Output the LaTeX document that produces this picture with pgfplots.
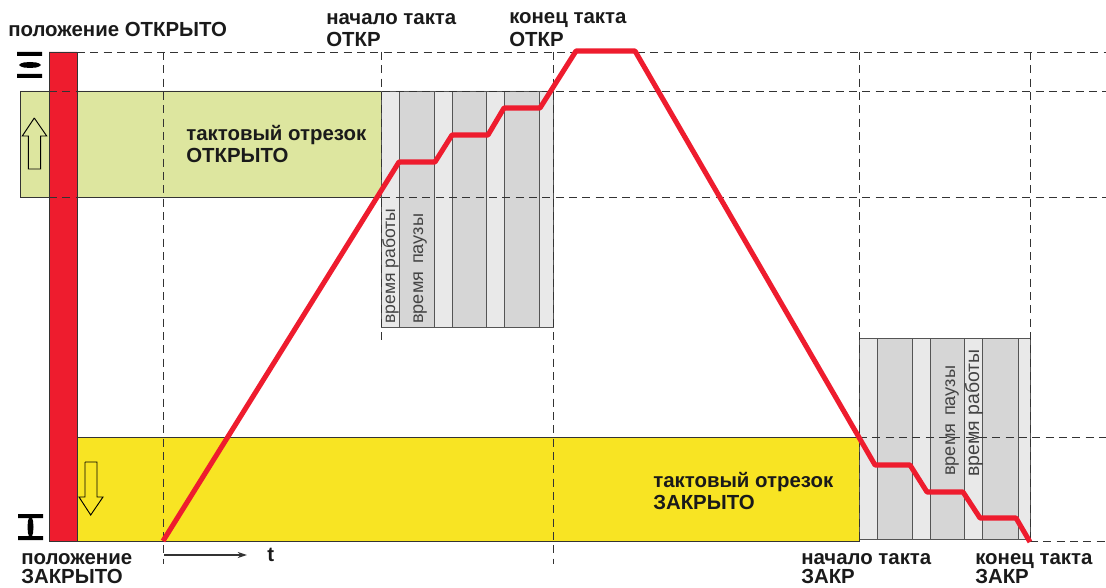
\documentclass[border=0pt]{standalone}
\usepackage{fontspec}
\setmainfont{Liberation Sans}
\usepackage{pgfplots}
\pgfplotsset{compat=1.18}
\usetikzlibrary{arrows.meta}
\definecolor{cred}{HTML}{EE1C2E}
\definecolor{cgreen}{HTML}{DDE69F}
\definecolor{cyellow}{HTML}{F8E423}
\definecolor{cdark}{HTML}{D6D6D6}
\definecolor{clight}{HTML}{E9E9E9}
\definecolor{cline}{HTML}{333333}
\definecolor{cdiv}{HTML}{555555}
\definecolor{ctext}{HTML}{1A1A1A}
\definecolor{cgrey}{HTML}{444444}
\newcommand\lab[3]{\node[anchor=base west, inner sep=0pt, font=\fontsize{15.3}{18}\selectfont\bfseries, text=ctext] at (axis cs:#1,#2) {#3};}
\newcommand\vlab[4]{\node[anchor=base west, rotate=90, inner sep=0pt, font=\fontsize{#3}{16}\selectfont, text=cgrey] at (axis cs:#1,#2) {#4};}
\begin{document}
\begin{tikzpicture}
\path[use as bounding box] (0,0) rectangle (829.5pt,441pt);
\begin{axis}[at={(0,0)}, anchor=south west, scale only axis, width=829.5pt, height=441pt,
    xmin=0, xmax=1106, ymin=0, ymax=588, y dir=reverse, hide axis, clip=true,
    band/.style={fill=#1, draw=cdiv, line width=0.7pt},
    grid line/.style={draw=cline, line width=0.7pt, dash pattern=on 6pt off 4pt}]
  % green and yellow zones
  \addplot[fill=cgreen, draw=cline, line width=0.7pt] coordinates {(20,91) (381,91) (381,197) (20,197) (20,91)};
  \addplot[fill=cyellow, draw=cline, line width=0.7pt] coordinates {(77,437) (859,437) (859,541) (77,541) (77,437)};
  % grey bands, top group
  \addplot[band=clight] coordinates {(381,91) (399,91) (399,327) (381,327) (381,91)};
  \addplot[band=cdark]  coordinates {(399,91) (434,91) (434,327) (399,327) (399,91)};
  \addplot[band=clight] coordinates {(434,91) (452,91) (452,327) (434,327) (434,91)};
  \addplot[band=cdark]  coordinates {(452,91) (486,91) (486,327) (452,327) (452,91)};
  \addplot[band=clight] coordinates {(486,91) (504,91) (504,327) (486,327) (486,91)};
  \addplot[band=cdark]  coordinates {(504,91) (539,91) (539,327) (504,327) (504,91)};
  \addplot[band=clight] coordinates {(539,91) (553,91) (553,327) (539,327) (539,91)};
  % grey bands, bottom group
  \addplot[band=clight] coordinates {(859,338) (877,338) (877,539) (859,539) (859,338)};
  \addplot[band=cdark]  coordinates {(877,338) (912,338) (912,539) (877,539) (877,338)};
  \addplot[band=clight] coordinates {(912,338) (930,338) (930,539) (912,539) (912,338)};
  \addplot[band=cdark]  coordinates {(930,338) (964,338) (964,539) (930,539) (930,338)};
  \addplot[band=clight] coordinates {(964,338) (982,338) (982,539) (964,539) (964,338)};
  \addplot[band=cdark]  coordinates {(982,338) (1018,338) (1018,539) (982,539) (982,338)};
  \addplot[band=clight] coordinates {(1018,338) (1030,338) (1030,539) (1018,539) (1018,338)};
  % red bar
  \addplot[fill=cred, draw=cline, line width=0.6pt] coordinates {(49,52) (77,52) (77,541) (49,541) (49,52)};
  % dashed guides
  \addplot[grid line] coordinates {(77,52) (1106,52)};
  \addplot[grid line] coordinates {(49,91) (1106,91)};
  \addplot[grid line] coordinates {(49,197) (1106,197)};
  \addplot[grid line] coordinates {(859,437) (1106,437)};
  \addplot[grid line] coordinates {(1030,541) (1106,541)};
  \addplot[grid line] coordinates {(77,541) (859,541)};
  \addplot[grid line] coordinates {(163,52) (163,564)};
  \addplot[grid line] coordinates {(381,52) (381,342)};
  \addplot[grid line] coordinates {(553,52) (553,564)};
  \addplot[grid line] coordinates {(859,52) (859,544)};
  \addplot[grid line] coordinates {(1030,52) (1030,544)};
  % position symbols
  \addplot[fill=black, draw=none] coordinates {(17,52) (42,52) (42,56) (17,56) (17,52)};
  \addplot[fill=black, draw=none] coordinates {(17,74) (42,74) (42,78) (17,78) (17,74)};
  \addplot[fill=black, draw=none] coordinates {(19,65) (21,63.4) (24,62.5) (30,62) (36,62.5) (39,63.4) (41,65) (39,66.6) (36,67.5) (30,68) (24,67.5) (21,66.6) (19,65)};
  \addplot[fill=black, draw=none] coordinates {(18,514) (43,514) (43,518) (18,518) (18,514)};
  \addplot[fill=black, draw=none] coordinates {(18,536) (43,536) (43,540) (18,540) (18,536)};
  \addplot[fill=black, draw=none] coordinates {(30.5,516) (28.9,518) (28,521) (27.5,527) (28,533) (28.9,536) (30.5,538) (32.1,536) (33,533) (33.5,527) (33,521) (32.1,518) (30.5,516)};
  % hollow arrows
  \addplot[draw=black, line width=0.7pt] coordinates {(34.3,118) (46.7,136) (40.7,136) (40.7,169) (28.3,169) (28.3,136) (22.3,136) (34.3,118)};
  \addplot[draw=black, line width=0.7pt] coordinates {(85,462) (97,462) (97,497) (103,497) (90.7,515) (79,497) (85,497) (85,462)};
  % time arrow
  \addplot[draw=cline, line width=0.9pt, -{Stealth[length=7pt,width=4.5pt]}] coordinates {(164,555) (247,555)};
  % position curve
  \addplot[draw=cred, line width=3.8pt, line join=round] coordinates {
    (163,541) (399,162) (435,162) (452,135) (488,135) (504,108) (540,108)
    (576,51) (635,51) (875,465) (910,465) (927,492) (963,492) (980,518) (1016,518) (1030,542)};
  % labels
  \lab{8}{36.5}{положение ОТКРЫТО}
  \lab{326}{25}{начало такта}
  \lab{326}{47}{ОТКР}
  \lab{509}{23.5}{конец такта}
  \lab{509}{46.5}{ОТКР}
  \lab{186}{141}{тактовый отрезок}
  \lab{186}{162}{ОТКРЫТО}
  \lab{653}{487}{тактовый отрезок}
  \lab{653}{509}{ЗАКРЫТО}
  \lab{21}{564.5}{положение}
  \lab{21}{583.5}{ЗАКРЫТО}
  \lab{801}{564.5}{начало такта}
  \lab{801}{583.5}{ЗАКР}
  \lab{975}{564.5}{конец такта}
  \lab{975}{583.5}{ЗАКР}
  \lab{267}{561}{t}
  \vlab{395}{324}{13.2}{время работы}
  \vlab{423}{324}{13.6}{время\hspace{0.15em} паузы}
  \vlab{955}{476}{13.6}{время\hspace{0.15em} паузы}
  \vlab{979}{477}{14.6}{время работы}
\end{axis}
\end{tikzpicture}
\end{document}
